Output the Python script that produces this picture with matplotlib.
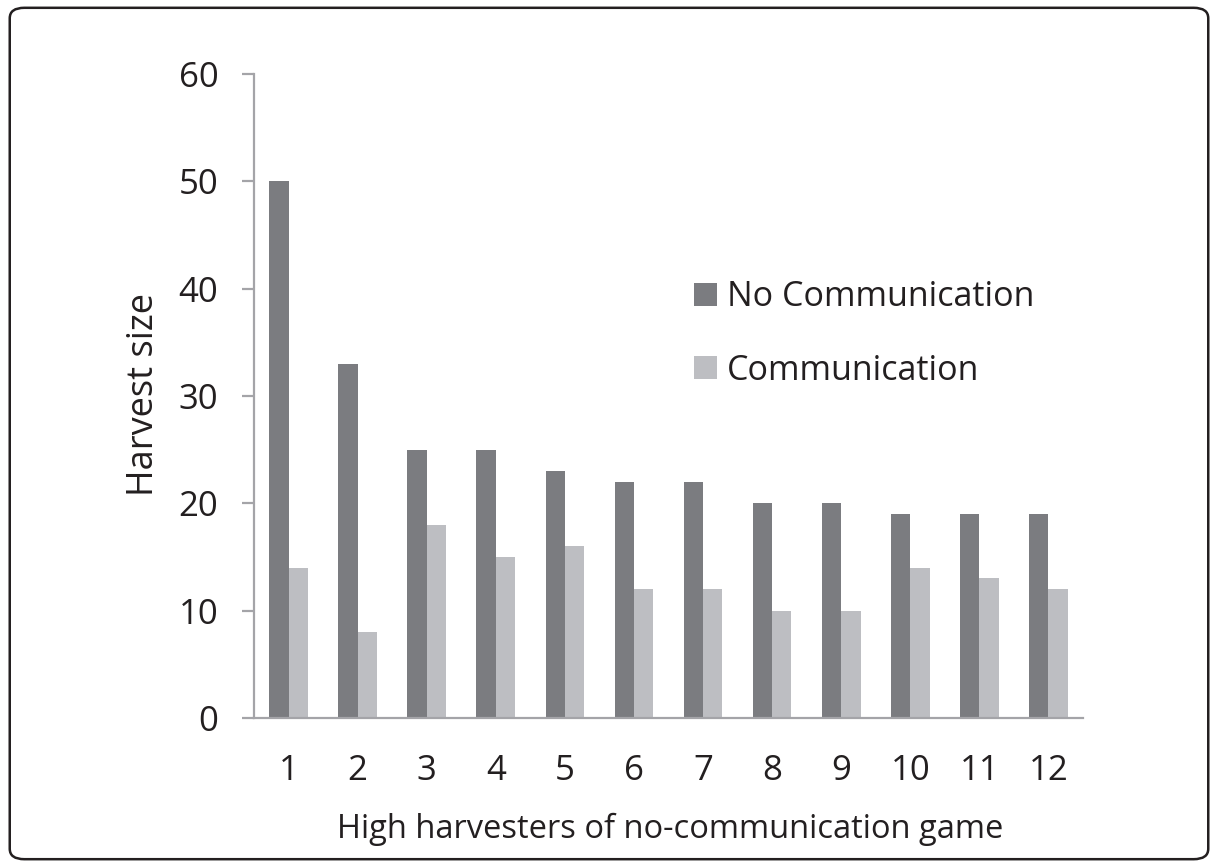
import matplotlib
matplotlib.use("Agg")
import matplotlib.pyplot as plt
import numpy as np
from matplotlib.patches import FancyBboxPatch

categories = ["1", "2", "3", "4", "5", "6", "7", "8", "9", "10", "11", "12"]
no_comm = [50, 33, 25, 25, 23, 22, 22, 20, 20, 19, 19, 19]
comm = [14, 8, 18, 15, 16, 12, 12, 10, 10, 14, 13, 12]
series_names = ["No Communication", "Communication"]

plt.rcParams['font.family'] = ['Open Sans', 'DejaVu Sans']

W, H = 1218, 867
fig = plt.figure(figsize=(W / 100, H / 100), dpi=100)
ax = fig.add_axes([254 / W, 1 - 718 / H, (1083 - 254) / W, (718 - 74) / H])

x = np.arange(len(categories))
w = 0.28
dark = "#7b7c80"
light = "#bdbec2"
txt = "#231f20"
ax.bar(x - w/2, no_comm, w, color=dark, label=series_names[0])
ax.bar(x + w/2, comm, w, color=light, label=series_names[1])

ax.set_xlim(-0.5, len(categories) - 0.5)
ax.set_ylim(0, 60)
ax.set_yticks(range(0, 61, 10))
ax.set_xticks(x)
ax.set_xticklabels(categories)

spine_col = "#a4a4a8"
for s in ["top", "right"]:
    ax.spines[s].set_visible(False)
for s in ["left", "bottom"]:
    ax.spines[s].set_color(spine_col)
    ax.spines[s].set_linewidth(1.6)
ax.tick_params(axis='y', length=8.6, width=1.6, color=spine_col, labelsize=25, pad=17, labelcolor=txt)
ax.tick_params(axis='x', length=0, labelsize=25, pad=26, labelcolor=txt)

ax.set_ylabel("Harvest size", fontsize=26, color=txt)
ax.yaxis.set_label_coords(-0.111, 0.503)
ax.set_xlabel("High harvesters of no-communication game", fontsize=23.5, color=txt)
ax.xaxis.set_label_coords(0.502, -0.147)

leg = ax.legend(loc="center left", bbox_to_anchor=(677 / W, 1 - 334 / H),
                bbox_transform=fig.transFigure, frameon=False, borderpad=0,
                fontsize=24.5, handlelength=0.68, handleheight=0.68, handletextpad=0.3,
                labelspacing=1.15, labelcolor=txt)

border = FancyBboxPatch((0.008, 0.009), 0.984, 0.982, boxstyle="round,pad=0,rounding_size=0.012",
                        transform=fig.transFigure, fill=False, edgecolor=txt, linewidth=1.8)
fig.patches.append(border)

fig.savefig("out.png", dpi=100)
